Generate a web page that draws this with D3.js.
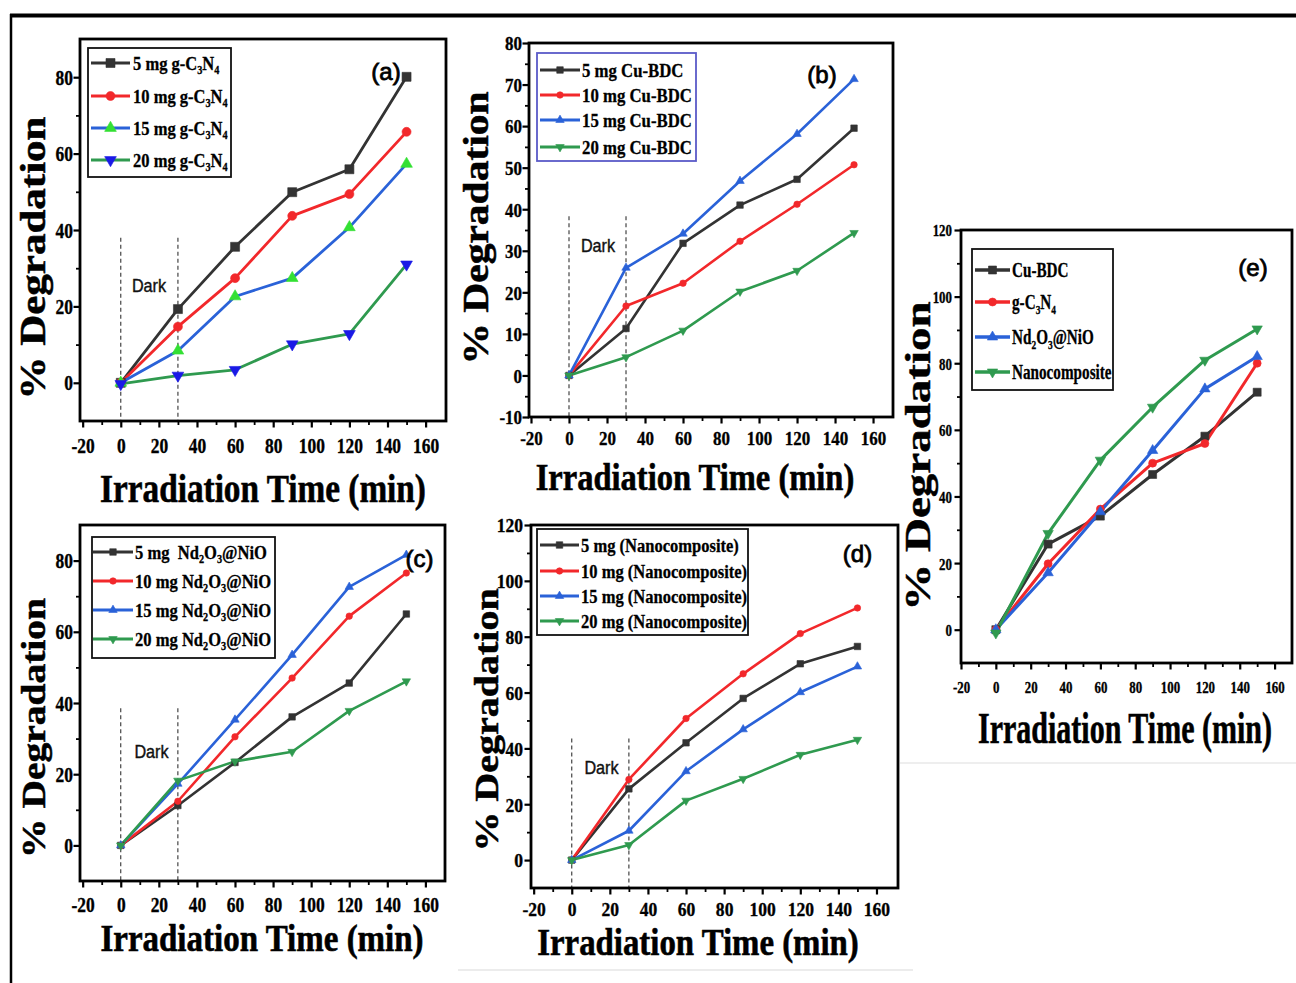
<!DOCTYPE html>
<html>
<head>
<meta charset="utf-8">
<script src="https://cdn.jsdelivr.net/npm/d3@7"></script>
<style>
  html, body { margin: 0; padding: 0; background: #fff; }
  svg { display: block; }
  svg text { white-space: pre; }
</style>
</head>
<body>
<svg id="fig" width="1296" height="983"></svg>
<script>
// ---- data ----
const timeMin = [0, 30, 60, 90, 120, 150];
const darkSpan = [0, 30];
const xTickValues = [-20, 0, 20, 40, 60, 80, 100, 120, 140, 160];
const xMinorValues = [-10, 10, 30, 50, 70, 90, 110, 130, 150];

const yTicks80 = [0, 20, 40, 60, 80];
const yMinor80 = [10, 30, 50, 70];
const yTicksTen = [-10, 0, 10, 20, 30, 40, 50, 60, 70, 80];
const yMinorTen = [-5, 5, 15, 25, 35, 45, 55, 65, 75];
const yTicks120 = [0, 20, 40, 60, 80, 100, 120];
const yMinor120 = [10, 30, 50, 70, 90, 110];

const gc3n4Labels = ["5 mg g-C_3N_4", "10 mg g-C_3N_4", "15 mg g-C_3N_4", "20 mg g-C_3N_4"];
const gc3n4Values = [
  [0, 19.3, 35.6, 49.9, 55.9, 80.1],
  [0, 14.7, 27.4, 43.7, 49.4, 65.7],
  [0, 8.4, 22.6, 27.4, 40.7, 57.3],
  [-0.3, 1.9, 3.4, 10.1, 12.8, 31.0],
];

const cuBdcLabels = ["5 mg Cu-BDC", "10 mg Cu-BDC", "15 mg Cu-BDC", "20 mg Cu-BDC"];
const cuBdcValues = [
  [0, 11.3, 31.8, 41.0, 47.2, 59.5],
  [0, 16.7, 22.2, 32.3, 41.2, 50.7],
  [0, 25.9, 34.1, 46.8, 58.1, 71.3],
  [0, 4.4, 10.8, 20.2, 25.2, 34.3],
];

const ndNioLabels = ["5 mg  Nd_2O_3@NiO", "10 mg Nd_2O_3@NiO", "15 mg Nd_2O_3@NiO", "20 mg Nd_2O_3@NiO"];
const ndNioValues = [
  [0, 11.2, 23.3, 36.1, 45.6, 65.0],
  [0, 12.4, 30.5, 47.0, 64.4, 76.5],
  [0, 17.3, 35.3, 53.5, 72.6, 81.6],
  [0, 18.2, 23.6, 26.3, 37.8, 46.1],
];

const nanoLabels = ["5 mg (Nanocomposite)", "10 mg (Nanocomposite)", "15 mg (Nanocomposite)", "20 mg (Nanocomposite)"];
const nanoValues = [
  [0, 25.5, 42.0, 57.9, 70.3, 76.5],
  [0, 28.9, 50.7, 66.7, 81.1, 90.3],
  [0, 10.5, 31.8, 46.8, 60.1, 69.3],
  [0, 5.4, 21.3, 29.1, 37.7, 43.1],
];

const compareLabels = ["Cu-BDC", "g-C_3N_4", "Nd_2O_3@NiO", "Nanocomposite"];
const compareValues = [
  [0, 25.7, 34.1, 46.6, 58.1, 71.3],
  [0, 19.8, 36.2, 50.0, 55.9, 80.0],
  [0, 17.1, 35.4, 53.8, 72.3, 82.0],
  [-1, 28.9, 50.9, 66.8, 80.9, 90.3],
];

// ---- styles ----
const SERIF = "'Liberation Serif','Times New Roman',serif";
const SANS = "'Liberation Sans',Arial,sans-serif";
const BLACK = "#333333", RED = "#f2282b", BLUE = "#2a62d8", GREEN = "#2f9a4f";
const LINE_COLORS = [BLACK, RED, BLUE, GREEN];
const SHAPES = ["square", "circle", "up", "down"];

const panels = [
  {
    tag: "(a)", labels: gc3n4Labels, values: gc3n4Values,
    markerColors: [BLACK, RED, "#33e033", "#1a1ae6"],
    frame: [80, 39, 446, 421], xDom: [-21.4, 170.7], yDom: [-10, 90],
    yTicks: yTicks80, yMinor: yMinor80,
    tickFs: 20.5, tickSx: 0.85, yLabelRight: 73, xLabelBase: 453,
    xTitle: { cx: 263, base: 502, fs: 39, sx: 0.853 },
    yTitle: { cy: 258, base: 45, fs: 43, s: 0.83 },
    legend: { box: [88, 48, 231, 177], stroke: "#111", lx1: 91, lx2: 130, tx: 133, ys: [63, 96, 128, 160], fs: 19, sx: 0.87 },
    tagPos: { cx: 386, base: 80 },
    dark: { cx: 149, base: 292, top: 38 },
    lw: 2.8, ms: 9,
  },
  {
    tag: "(b)", labels: cuBdcLabels, values: cuBdcValues,
    markerColors: LINE_COLORS,
    frame: [529, 43, 893, 417], xDom: [-21.05, 170.5], yDom: [-10, 80],
    yTicks: yTicksTen, yMinor: yMinorTen,
    tickFs: 19.5, tickSx: 0.87, yLabelRight: 522, xLabelBase: 445,
    xTitle: { cx: 695, base: 490, fs: 38, sx: 0.856 },
    yTitle: { cy: 228, base: 488, fs: 41.5, s: 0.84 },
    legend: { box: [537, 53, 696, 161], stroke: "#5a5ac8", lx1: 540, lx2: 580, tx: 582, ys: [70, 95, 120, 147], fs: 19.5, sx: 0.86 },
    tagPos: { cx: 822, base: 83 },
    dark: { cx: 598, base: 252, top: 38.3 },
    lw: 2.6, ms: 6.5,
  },
  {
    tag: "(c)", labels: ndNioLabels, values: ndNioValues,
    markerColors: LINE_COLORS,
    frame: [80, 525, 445, 881], xDom: [-21.4, 170.3], yDom: [-10, 90],
    yTicks: yTicks80, yMinor: yMinor80,
    tickFs: 20.5, tickSx: 0.85, yLabelRight: 73, xLabelBase: 912,
    xTitle: { cx: 262, base: 951, fs: 37.5, sx: 0.88 },
    yTitle: { cy: 728, base: 45, fs: 39.5, s: 0.85 },
    legend: { box: [92, 537, 275, 658], stroke: "#111", lx1: 93, lx2: 133, tx: 135, ys: [552, 581, 610, 639], fs: 19.5, sx: 0.85 },
    tagPos: { cx: 419.5, base: 567 },
    dark: { cx: 151.5, base: 758, top: 38.5 },
    lw: 2.6, ms: 6.5,
  },
  {
    tag: "(d)", labels: nanoLabels, values: nanoValues,
    markerColors: LINE_COLORS,
    frame: [531, 525, 898, 888], xDom: [-21.4, 171.3], yDom: [-10, 120],
    yTicks: yTicks120, yMinor: yMinor120,
    tickFs: 19.5, tickSx: 0.9, yLabelRight: 523, xLabelBase: 916,
    xTitle: { cx: 698, base: 955, fs: 38, sx: 0.864 },
    yTitle: { cy: 720, base: 498, fs: 40, s: 0.85 },
    legend: { box: [537, 529, 748, 635], stroke: "#111", lx1: 540, lx2: 579, tx: 581, ys: [545, 571, 596, 621], fs: 19, sx: 0.87 },
    tagPos: { cx: 857.5, base: 562 },
    dark: { cx: 601.5, base: 774, top: 43.5 },
    lw: 2.6, ms: 6.5,
  },
  {
    tag: "(e)", labels: compareLabels, values: compareValues,
    markerColors: LINE_COLORS,
    frame: [961, 230, 1292, 663], xDom: [-20, 170], yDom: [-10, 120],
    yTicks: yTicks120, yMinor: yMinor120,
    tickFs: 17, tickSx: 0.76, yLabelRight: 952, xLabelBase: 693,
    xTitle: { cx: 1125, base: 743, fs: 45, sx: 0.667 },
    yTitle: { cy: 456, base: 930, fs: 47, s: 0.74 },
    legend: { box: [972, 249, 1113, 390], stroke: "#111", lx1: 975, lx2: 1010, tx: 1012, ys: [270, 302, 337, 372], fs: 20, sx: 0.76 },
    tagPos: { cx: 1253, base: 276 },
    dark: null,
    lw: 3, ms: 8,
  },
];

// ---- helpers ----
function richText(textSel, str, fs) {
  const parts = str.split(/(_\d)/).filter((s) => s.length);
  let lowered = false;
  parts.forEach((part) => {
    if (part[0] === "_") {
      textSel.append("tspan").attr("font-size", fs * 0.62).attr("dy", lowered ? 0 : fs * 0.22).text(part.slice(1));
      lowered = true;
    } else {
      const t = textSel.append("tspan").text(part);
      if (lowered) { t.attr("dy", -fs * 0.22); lowered = false; }
    }
  });
}

function symbolPath(shape, s) {
  const types = { square: d3.symbolSquare, circle: d3.symbolCircle, up: d3.symbolTriangle, down: d3.symbolTriangle };
  let area;
  if (shape === "square") area = s * s;
  else if (shape === "circle") area = Math.PI * s * s / 4;
  else area = 0.433 * (1.3 * s) ** 2;
  return d3.symbol(types[shape], area)();
}

function addMarker(g, shape, cx, cy, s, color) {
  g.append("path")
    .attr("d", symbolPath(shape, s))
    .attr("transform", `translate(${cx},${cy})` + (shape === "down" ? " rotate(180)" : ""))
    .attr("fill", color)
    .attr("stroke", color)
    .attr("stroke-width", 0.6);
}

function styleTickText(sel, p) {
  sel.attr("font-family", SERIF).attr("font-weight", "bold")
    .attr("font-size", p.tickFs).attr("fill", "#000")
    .attr("stroke", "#000").attr("stroke-width", 0.35);
}

function drawPanel(svg, p) {
  const [x0, y0, x1, y1] = p.frame;
  const x = d3.scaleLinear().domain(p.xDom).range([x0, x1]);
  const y = d3.scaleLinear().domain(p.yDom).range([y1, y0]);
  const g = svg.append("g");

  // minor ticks
  const gxm = g.append("g").attr("transform", `translate(0,${y1})`)
    .call(d3.axisBottom(x).tickValues(xMinorValues).tickSize(4).tickFormat(""));
  const gym = g.append("g").attr("transform", `translate(${x0},0)`)
    .call(d3.axisLeft(y).tickValues(p.yMinor).tickSize(4).tickFormat(""));
  [gxm, gym].forEach((a) => {
    a.select(".domain").remove();
    a.selectAll(".tick line").attr("stroke", "#000").attr("stroke-width", 1.8);
  });

  // major ticks + labels
  const gx = g.append("g").attr("transform", `translate(0,${y1})`)
    .call(d3.axisBottom(x).tickValues(xTickValues).tickSize(6.5).tickFormat((d) => String(d)));
  gx.select(".domain").remove();
  gx.selectAll(".tick line").attr("stroke", "#000").attr("stroke-width", 2.2);
  gx.selectAll(".tick text")
    .attr("y", 0).attr("dy", null)
    .attr("text-anchor", "middle")
    .attr("transform", `translate(0,${p.xLabelBase - y1}) scale(${p.tickSx},1)`)
    .call(styleTickText, p);

  const gy = g.append("g").attr("transform", `translate(${x0},0)`)
    .call(d3.axisLeft(y).tickValues(p.yTicks).tickSize(6.5).tickFormat((d) => String(d)));
  gy.select(".domain").remove();
  gy.selectAll(".tick line").attr("stroke", "#000").attr("stroke-width", 2.2);
  gy.selectAll(".tick text")
    .attr("x", 0).attr("dy", "0.35em")
    .attr("text-anchor", "end")
    .attr("transform", `translate(${p.yLabelRight - x0},0) scale(${p.tickSx},1)`)
    .call(styleTickText, p);

  // dark period dashed lines
  if (p.dark) {
    darkSpan.forEach((t) => {
      g.append("line")
        .attr("x1", x(t)).attr("x2", x(t))
        .attr("y1", y(p.dark.top)).attr("y2", y1)
        .attr("stroke", "#333").attr("stroke-width", 1.1)
        .attr("stroke-dasharray", "4,3");
    });
    g.append("text")
      .attr("transform", `translate(${p.dark.cx},${p.dark.base}) scale(0.9,1)`)
      .attr("text-anchor", "middle")
      .attr("font-family", SANS).attr("font-size", 18).attr("fill", "#111")
      .attr("stroke", "#111").attr("stroke-width", 0.4)
      .text("Dark");
  }

  // series
  const line = d3.line().x((d, i) => x(timeMin[i])).y((d) => y(d));
  p.values.forEach((vals, si) => {
    g.append("path")
      .attr("d", line(vals))
      .attr("fill", "none")
      .attr("stroke", LINE_COLORS[si])
      .attr("stroke-width", p.lw)
      .attr("stroke-linejoin", "round");
  });
  p.values.forEach((vals, si) => {
    vals.forEach((v, i) => addMarker(g, SHAPES[si], x(timeMin[i]), y(v), p.ms, p.markerColors[si]));
  });

  // frame
  g.append("rect")
    .attr("x", x0).attr("y", y0)
    .attr("width", x1 - x0).attr("height", y1 - y0)
    .attr("fill", "none").attr("stroke", "#000").attr("stroke-width", 2.8);

  // legend
  const L = p.legend;
  g.append("rect")
    .attr("x", L.box[0]).attr("y", L.box[1])
    .attr("width", L.box[2] - L.box[0]).attr("height", L.box[3] - L.box[1])
    .attr("fill", "#fff").attr("stroke", L.stroke).attr("stroke-width", 1.8);
  p.labels.forEach((lab, si) => {
    const ly = L.ys[si];
    g.append("line")
      .attr("x1", L.lx1).attr("x2", L.lx2).attr("y1", ly).attr("y2", ly)
      .attr("stroke", LINE_COLORS[si]).attr("stroke-width", p.lw + 0.4);
    addMarker(g, SHAPES[si], (L.lx1 + L.lx2) / 2, ly, p.ms, p.markerColors[si]);
    const t = g.append("text")
      .attr("transform", `translate(${L.tx},${ly + L.fs * 0.36}) scale(${L.sx},1)`)
      .attr("font-family", SERIF).attr("font-weight", "bold")
      .attr("font-size", L.fs).attr("fill", "#000")
      .attr("stroke", "#000").attr("stroke-width", 0.3);
    richText(t, lab, L.fs);
  });

  // panel tag
  g.append("text")
    .attr("transform", `translate(${p.tagPos.cx},${p.tagPos.base})`)
    .attr("text-anchor", "middle")
    .attr("font-family", SANS).attr("font-size", 24).attr("fill", "#000")
    .attr("stroke", "#000").attr("stroke-width", 0.8)
    .text(p.tag);

  // axis titles
  g.append("text")
    .attr("transform", `translate(${p.xTitle.cx},${p.xTitle.base}) scale(${p.xTitle.sx},1)`)
    .attr("text-anchor", "middle")
    .attr("font-family", SERIF).attr("font-weight", "bold")
    .attr("font-size", p.xTitle.fs).attr("fill", "#000")
    .attr("stroke", "#000").attr("stroke-width", 0.6)
    .text("Irradiation Time (min)");

  g.append("text")
    .attr("transform", `translate(${p.yTitle.base},${p.yTitle.cy}) rotate(-90) scale(1,${p.yTitle.s})`)
    .attr("text-anchor", "middle")
    .attr("font-family", SERIF).attr("font-weight", "bold")
    .attr("font-size", p.yTitle.fs).attr("fill", "#000")
    .attr("stroke", "#000").attr("stroke-width", 0.6)
    .text("% Degradation");
}

const svg = d3.select("#fig");

// page border and scan artifacts
svg.append("line").attr("x1", 10).attr("x2", 1296).attr("y1", 15.5).attr("y2", 15.5)
  .attr("stroke", "#000").attr("stroke-width", 4);
svg.append("line").attr("x1", 11).attr("x2", 11).attr("y1", 14).attr("y2", 983)
  .attr("stroke", "#000").attr("stroke-width", 2.5);
svg.append("line").attr("x1", 458).attr("x2", 913).attr("y1", 970).attr("y2", 970)
  .attr("stroke", "#ececec").attr("stroke-width", 2);
svg.append("line").attr("x1", 900).attr("x2", 1296).attr("y1", 763).attr("y2", 763)
  .attr("stroke", "#e8e8e8").attr("stroke-width", 1.5);

panels.forEach((p) => drawPanel(svg, p));
</script>
</body>
</html>
